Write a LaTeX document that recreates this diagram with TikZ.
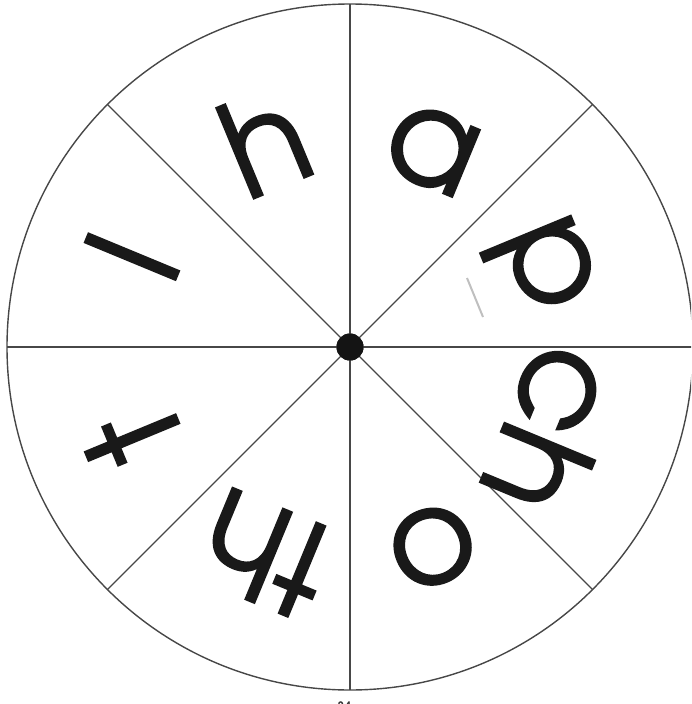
\documentclass[tikz,border=0pt]{standalone}
\usepackage{fontspec}
\setmainfont{texgyreadventor-regular.otf}[FakeBold=1.3]
\begin{document}
\begin{tikzpicture}[x=1pt,y=1pt,
  letter/.style={inner sep=0pt, outer sep=0pt, font=\fontsize{133}{133}\selectfont, text=black!90},
  spoke/.style={draw=black!72, line width=1.2pt},
  rimstyle/.style={circle, draw=black!72, line width=1.4pt, minimum size=686pt, inner sep=0pt, outer sep=0pt},
  hubstyle/.style={circle, fill=black!92, minimum size=27pt, inner sep=0pt, outer sep=0pt}]
\useasboundingbox (0,0) rectangle (691,-704);
\clip (0,0) rectangle (691,-704);
\coordinate (c) at (350,-347);
\node[rimstyle] (rim) at (c) {};
\node[hubstyle] (hub) at (c) {};
\foreach \a in {0,45,...,315} \draw[spoke] (hub.center) -- (rim.\a);
\node[hubstyle] at (c) {};
\node[letter, rotate=-22.5] (la) at ([shift={(67.5:214)}]c) {a};
\node[letter, rotate=22.5] (lh) at ([shift={(112.5:223)}]c) {h};
\node[letter, rotate=67.5] (ll) at ([shift={(157.5:236)}]c) {l};
\node[letter, rotate=112.5] (lt) at ([shift={(202.5:236)}]c) {t};
\node[letter, rotate=157.5] (lth) at ([shift={(247.5:224)}]c) {th};
\node[letter, rotate=202.5] (lo) at ([shift={(292.5:216)}]c) {o};
\node[letter, rotate=247.5] (lch) at ([shift={(337.5:220)}]c) {ch};
\node[letter, rotate=-67.5] (lp) at ([shift={(22.5:206)}]c) {p};
\coordinate (g1) at (467,-278);
\coordinate (g2) at (483,-317);
\draw[black!25, line width=2pt] (g1) -- (g2);
\node[font=\fontsize{12}{12}\selectfont, text=black!80] (pg) at (344,-706) {84};
\end{tikzpicture}
\end{document}
